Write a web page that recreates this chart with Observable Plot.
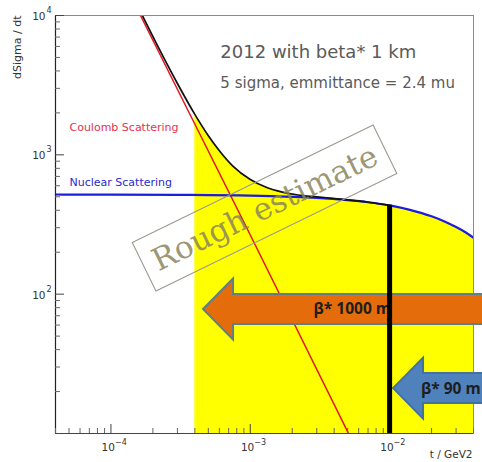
<!DOCTYPE html>
<html>
<head>
<meta charset="utf-8">
<script src="https://cdn.jsdelivr.net/npm/d3@7"></script>
<script src="https://cdn.jsdelivr.net/npm/@observablehq/plot@0.6"></script>
<style>
  html, body { margin: 0; padding: 0; background: #fff; }
  #chart svg { display: block; }
</style>
</head>
<body>
<div id="chart"></div>
<script>
// dSigma/dt versus |t| on log-log axes: Coulomb, nuclear and total scattering,
// with the accessible t range shaded and the beta* reach marked by arrows.

const xDomain = [4e-5, 4e-2];
const yDomain = [10, 1e4];

// Decade tick labels (drawn as "10" plus a raised exponent)
const xMajor = [1e-4, 1e-3, 1e-2];
const xExponents = ["−4", "−3", "−2"];
const yMajor = [1e2, 1e3, 1e4];
const yExponents = ["2", "3", "4"];

// Coulomb scattering (straight line on log-log axes)
const coulombT = [1.63e-4, 1e-3, 5.07e-3];
const coulombV = [1e4, 266, 10];

// Nuclear scattering
const nuclearT = [4e-5, 1e-4, 3e-4, 1e-3, 2e-3, 3e-3, 5e-3, 7e-3, 1e-2, 1.4e-2, 2e-2, 2.5e-2, 3e-2, 3.5e-2, 4e-2];
const nuclearV = [519, 518, 516, 510, 500, 491, 473, 457, 434, 403, 362, 331, 303, 278, 254];

// Total (Coulomb + nuclear + interference)
const totalT = [1.68e-4, 2.2e-4, 3e-4, 4e-4, 5e-4, 6e-4, 7.5e-4, 1e-3, 1.3e-3, 1.7e-3, 2.2e-3, 3e-3, 4e-3, 5e-3, 7e-3, 1e-2, 1.4e-2, 2e-2, 2.5e-2, 3e-2, 3.5e-2, 4e-2];
const totalV = [10000, 5850, 3250, 1950, 1370, 1070, 830, 665, 585, 540, 515, 500, 486, 475, 457, 434, 403, 362, 331, 303, 278, 254];

// Accessible region starts here; measurement cut line
const rangeStartT = 4e-4;
const cutT = [1e-2];
const cutV = [434];

// Curve labels
const curveLabels = ["Coulomb Scattering", "Nuclear Scattering"];
const curveLabelT = [5.04e-5, 5.04e-5];
const curveLabelV = [1570, 632];
const curveLabelColors = ["#e4324e", "#2a2ad0"];

// Run conditions
const noteLines = ["2012 with beta* 1 km", "5 sigma, emmittance = 2.4 mu"];
const noteT = [6.1e-4, 6.1e-4];
const noteV = [5420, 3250];
const noteSizes = [18, 15];

// "Rough estimate" stamp
const stampText = "Rough estimate";
const stampT = 1.276e-3;
const stampV = 412;

// beta* reach arrows
const arrowLabels = ["β* 1000 m", "β* 90 m"];
const arrowTipT = [4.62e-4, 1.067e-2];
const arrowTailT = [0.08, 0.08];
const arrowV = [77.6, 21.0];
const arrowLabelT = [5.4e-3, 2.75e-2];
const arrowFill = ["#e46c0a", "#4f81bd"];
const arrowStroke = ["#5f7d8a", "#41719c"];

const rows = (xs, ys) => xs.map((t, i) => ({t, v: ys[i]}));
const coulomb = rows(coulombT, coulombV);
const nuclear = rows(nuclearT, nuclearV);
const total = rows(totalT, totalV);
const shaded = total.filter(d => d.t >= rangeStartT);
const totalLeft = total.filter(d => d.t <= 1e-2);

const xScaleTicks = d3.scaleLog().domain(xDomain).ticks();
const yScaleTicks = d3.scaleLog().domain(yDomain).ticks();
const isDecade = d => Math.abs(Math.log10(d) - Math.round(Math.log10(d))) < 1e-9;
const xMinor = xScaleTicks.filter(d => !isDecade(d));
const yMinor = yScaleTicks.filter(d => !isDecade(d) && d > yDomain[0]);

const W = 482, H = 462;
const margin = {left: 55, right: 9, top: 15, bottom: 29};
const innerW = W - margin.left - margin.right;
const innerH = H - margin.top - margin.bottom;

function stampBox(index, scales) {
  const cx = scales.x(stampT), cy = scales.y(stampV);
  const g = d3.create("svg:g")
    .attr("transform", `translate(${cx},${cy}) rotate(-26)`);
  g.append("rect")
    .attr("x", -134).attr("y", -27)
    .attr("width", 268).attr("height", 54)
    .attr("fill", "none")
    .attr("stroke", "#9a9a90")
    .attr("stroke-width", 1.1);
  return g.node();
}

function blockArrows(index, scales) {
  const g = d3.create("svg:g");
  const hb = 15, hh = 30.5, hl = 30;
  arrowTipT.forEach((tip, i) => {
    const x0 = scales.x(tip), x1 = scales.x(arrowTailT[i]), y0 = scales.y(arrowV[i]);
    const pts = [
      [x0, y0], [x0 + hl, y0 - hh], [x0 + hl, y0 - hb], [x1, y0 - hb],
      [x1, y0 + hb], [x0 + hl, y0 + hb], [x0 + hl, y0 + hh]
    ];
    g.append("path")
      .attr("d", "M" + pts.map(p => p.join(",")).join("L") + "Z")
      .attr("fill", arrowFill[i])
      .attr("stroke", arrowStroke[i])
      .attr("stroke-width", 2)
      .attr("stroke-linejoin", "miter");
  });
  return g.node();
}

const chart = Plot.plot({
  width: W,
  height: H,
  marginLeft: margin.left,
  marginRight: margin.right,
  marginTop: margin.top,
  marginBottom: margin.bottom,
  x: {type: "log", domain: xDomain, axis: null},
  y: {type: "log", domain: yDomain, axis: null},
  style: {fontFamily: "'DejaVu Sans', sans-serif", background: "#fff", overflow: "hidden"},
  marks: [
    // accessible region under the total curve
    Plot.areaY(shaded, {x: "t", y1: yDomain[0], y2: "v", fill: "#ffff00", curve: "monotone-x"}),
    // curves
    Plot.line(coulomb, {x: "t", y: "v", stroke: "#e3141c", strokeWidth: 1.5, clip: true}),
    Plot.line(nuclear, {x: "t", y: "v", stroke: "#1c1ce0", strokeWidth: 2.2, curve: "monotone-x", clip: true}),
    Plot.line(totalLeft, {x: "t", y: "v", stroke: "#111", strokeWidth: 1.7, curve: "monotone-x", clip: true}),
    // stamp
    stampBox,
    Plot.text([stampText], {x: () => stampT, y: () => stampV, rotate: -26, fontSize: 31,
      fontFamily: "'DejaVu Serif', serif", fill: "#8a845c", fillOpacity: 0.85}),
    // frame and ticks
    Plot.frame({stroke: "#8a8a8a"}),
    Plot.ruleX([xDomain[0]], {stroke: "#222", strokeWidth: 1.2}),
    Plot.ruleY([yDomain[0]], {stroke: "#444", strokeWidth: 1.2}),
    Plot.tickY(yMajor, {y: d => d, insetRight: innerW - 9, stroke: "#444"}),
    Plot.tickY(yMinor, {y: d => d, insetRight: innerW - 5, stroke: "#666"}),
    Plot.tickX(xMajor, {x: d => d, insetTop: innerH - 9, stroke: "#444"}),
    Plot.tickX(xMinor, {x: d => d, insetTop: innerH - 5, stroke: "#666"}),
    // tick labels
    Plot.text(yMajor, {y: d => d, frameAnchor: "left", dx: -10, dy: 1, textAnchor: "end",
      text: () => "10", fontSize: 10.5, fill: "#333"}),
    Plot.text(yMajor, {y: d => d, frameAnchor: "left", dx: -9, dy: -5, textAnchor: "start",
      text: (d, i) => yExponents[i], fontSize: 8, fill: "#333"}),
    Plot.text(xMajor, {x: d => d, frameAnchor: "bottom", dx: 4, dy: 17, textAnchor: "end",
      text: () => "10", fontSize: 10.5, fill: "#333"}),
    Plot.text(xMajor, {x: d => d, frameAnchor: "bottom", dx: 4, dy: 11, textAnchor: "start",
      text: (d, i) => xExponents[i], fontSize: 8, fill: "#333"}),
    // axis titles
    Plot.text(["dSigma / dt"], {frameAnchor: "top-left", dx: -42, rotate: -90, textAnchor: "end",
      fontSize: 11, fill: "#333"}),
    Plot.text(["t / GeV2"], {frameAnchor: "bottom-right", dy: 24, dx: -1, textAnchor: "end",
      fontSize: 10.5, fill: "#333"}),
    // curve labels and run notes
    Plot.text(curveLabels, {x: (d, i) => curveLabelT[i], y: (d, i) => curveLabelV[i], textAnchor: "start",
      fill: (d, i) => curveLabelColors[i], fontSize: 11}),
    Plot.text(noteLines, {x: (d, i) => noteT[i], y: (d, i) => noteV[i], textAnchor: "start",
      fontSize: (d, i) => noteSizes[i], fill: "#5a5a5a"}),
    // beta* arrows, labels and the cut line drawn over them
    blockArrows,
    Plot.text(arrowLabels, {x: (d, i) => arrowLabelT[i], y: (d, i) => arrowV[i], fontSize: 15.5,
      fontWeight: "bold", fontFamily: "'Open Sans', sans-serif", fill: "#1e1e1e"}),
    Plot.ruleX(cutT, {x: d => d, y1: yDomain[0], y2: (d, i) => cutV[i], stroke: "#000", strokeWidth: 5})
  ]
});

document.getElementById("chart").appendChild(chart);
</script>
</body>
</html>
